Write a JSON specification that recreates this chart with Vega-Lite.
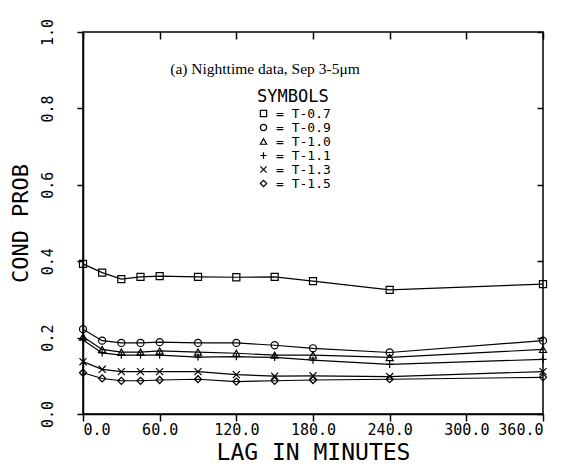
{
  "$schema": "https://vega.github.io/schema/vega-lite/v6.json",
  "width": 460,
  "height": 382,
  "autosize": {"type": "none"},
  "padding": {"left": 83, "top": 32, "right": 34, "bottom": 59},
  "background": "white",
  "config": {
    "view": {"stroke": "black", "strokeWidth": 1.5},
    "font": "DejaVu Sans Mono",
    "axis": {"grid": false, "domainColor": "black", "tickColor": "black", "labelColor": "black", "titleColor": "black", "domainWidth": 1.5, "tickWidth": 1.5, "titleFontWeight": "normal"}
  },
  "title": {
    "text": "(a) Nighttime data, Sep 3-5μm",
    "font": "Liberation Serif",
    "fontSize": 15.5,
    "fontWeight": "normal",
    "color": "black",
    "anchor": "middle",
    "orient": "top",
    "offset": -59,
    "dx": -48
  },
  "data": {
    "values": [
      {"lag": 0, "prob": 0.393, "series": "T-0.7"},
      {"lag": 15, "prob": 0.370, "series": "T-0.7"},
      {"lag": 30, "prob": 0.353, "series": "T-0.7"},
      {"lag": 45, "prob": 0.359, "series": "T-0.7"},
      {"lag": 60, "prob": 0.361, "series": "T-0.7"},
      {"lag": 90, "prob": 0.359, "series": "T-0.7"},
      {"lag": 120, "prob": 0.358, "series": "T-0.7"},
      {"lag": 150, "prob": 0.359, "series": "T-0.7"},
      {"lag": 180, "prob": 0.348, "series": "T-0.7"},
      {"lag": 240, "prob": 0.325, "series": "T-0.7"},
      {"lag": 360, "prob": 0.340, "series": "T-0.7"},
      {"lag": 0, "prob": 0.222, "series": "T-0.9"},
      {"lag": 15, "prob": 0.192, "series": "T-0.9"},
      {"lag": 30, "prob": 0.186, "series": "T-0.9"},
      {"lag": 45, "prob": 0.186, "series": "T-0.9"},
      {"lag": 60, "prob": 0.188, "series": "T-0.9"},
      {"lag": 90, "prob": 0.186, "series": "T-0.9"},
      {"lag": 120, "prob": 0.186, "series": "T-0.9"},
      {"lag": 150, "prob": 0.180, "series": "T-0.9"},
      {"lag": 180, "prob": 0.172, "series": "T-0.9"},
      {"lag": 240, "prob": 0.161, "series": "T-0.9"},
      {"lag": 360, "prob": 0.192, "series": "T-0.9"},
      {"lag": 0, "prob": 0.202, "series": "T-1.0"},
      {"lag": 15, "prob": 0.169, "series": "T-1.0"},
      {"lag": 30, "prob": 0.162, "series": "T-1.0"},
      {"lag": 45, "prob": 0.162, "series": "T-1.0"},
      {"lag": 60, "prob": 0.165, "series": "T-1.0"},
      {"lag": 90, "prob": 0.162, "series": "T-1.0"},
      {"lag": 120, "prob": 0.159, "series": "T-1.0"},
      {"lag": 150, "prob": 0.154, "series": "T-1.0"},
      {"lag": 180, "prob": 0.154, "series": "T-1.0"},
      {"lag": 240, "prob": 0.148, "series": "T-1.0"},
      {"lag": 360, "prob": 0.169, "series": "T-1.0"},
      {"lag": 0, "prob": 0.194, "series": "T-1.1"},
      {"lag": 15, "prob": 0.160, "series": "T-1.1"},
      {"lag": 30, "prob": 0.154, "series": "T-1.1"},
      {"lag": 45, "prob": 0.154, "series": "T-1.1"},
      {"lag": 60, "prob": 0.154, "series": "T-1.1"},
      {"lag": 90, "prob": 0.149, "series": "T-1.1"},
      {"lag": 120, "prob": 0.150, "series": "T-1.1"},
      {"lag": 150, "prob": 0.148, "series": "T-1.1"},
      {"lag": 180, "prob": 0.141, "series": "T-1.1"},
      {"lag": 240, "prob": 0.130, "series": "T-1.1"},
      {"lag": 360, "prob": 0.143, "series": "T-1.1"},
      {"lag": 0, "prob": 0.137, "series": "T-1.3"},
      {"lag": 15, "prob": 0.117, "series": "T-1.3"},
      {"lag": 30, "prob": 0.111, "series": "T-1.3"},
      {"lag": 45, "prob": 0.111, "series": "T-1.3"},
      {"lag": 60, "prob": 0.111, "series": "T-1.3"},
      {"lag": 90, "prob": 0.111, "series": "T-1.3"},
      {"lag": 120, "prob": 0.103, "series": "T-1.3"},
      {"lag": 150, "prob": 0.099, "series": "T-1.3"},
      {"lag": 180, "prob": 0.100, "series": "T-1.3"},
      {"lag": 240, "prob": 0.098, "series": "T-1.3"},
      {"lag": 360, "prob": 0.111, "series": "T-1.3"},
      {"lag": 0, "prob": 0.108, "series": "T-1.5"},
      {"lag": 15, "prob": 0.093, "series": "T-1.5"},
      {"lag": 30, "prob": 0.087, "series": "T-1.5"},
      {"lag": 45, "prob": 0.087, "series": "T-1.5"},
      {"lag": 60, "prob": 0.089, "series": "T-1.5"},
      {"lag": 90, "prob": 0.091, "series": "T-1.5"},
      {"lag": 120, "prob": 0.085, "series": "T-1.5"},
      {"lag": 150, "prob": 0.087, "series": "T-1.5"},
      {"lag": 180, "prob": 0.089, "series": "T-1.5"},
      {"lag": 240, "prob": 0.091, "series": "T-1.5"},
      {"lag": 360, "prob": 0.096, "series": "T-1.5"}
    ]
  },
  "resolve": {"axis": {"x": "independent", "y": "independent"}},
  "layer": [
    {
      "mark": {"type": "line", "color": "black", "strokeWidth": 1.2},
      "encoding": {
        "x": {
          "field": "lag", "type": "quantitative",
          "scale": {"domain": [0, 360], "nice": false, "zero": false},
          "axis": {
            "orient": "bottom",
            "values": [0, 60, 120, 180, 240, 300, 360],
            "labelExpr": "datum.value == 0 ? '\u00a0\u00a00.0' : format(datum.value, '.1f')",
            "tickSize": 7,
            "labelPadding": 1,
            "labelFontSize": 15,
            "labelDx": 5,
            "title": "LAG IN MINUTES",
            "titleFontSize": 23,
            "titlePadding": 4
          }
        },
        "y": {
          "field": "prob", "type": "quantitative",
          "scale": {"domain": [0, 1], "nice": false, "zero": false},
          "axis": {
            "orient": "left",
            "values": [0, 0.2, 0.4, 0.6, 0.8, 1.0],
            "format": ".1f",
            "tickSize": 6,
            "labelAngle": 270,
            "labelAlign": "center",
            "labelBaseline": "bottom",
            "labelPadding": 22,
            "labelFontSize": 15,
            "title": "COND PROB",
            "titleFontSize": 22,
            "titlePadding": 8
          }
        },
        "detail": {"field": "series"}
      }
    },
    {
      "mark": {"type": "point", "filled": false, "color": "black", "strokeWidth": 1.2, "size": 50, "opacity": 1},
      "encoding": {
        "x": {
          "field": "lag", "type": "quantitative",
          "axis": {"orient": "top", "values": [0, 60, 120, 180, 240, 300, 360], "labels": false, "tickSize": -7, "title": null, "domain": false}
        },
        "y": {
          "field": "prob", "type": "quantitative",
          "axis": {"orient": "right", "values": [0, 0.2, 0.4, 0.6, 0.8, 1.0], "labels": false, "tickSize": -6, "title": null, "domain": false}
        },
        "shape": {
          "field": "series", "type": "nominal",
          "scale": {
            "domain": ["T-0.7", "T-0.9", "T-1.0", "T-1.1", "T-1.3", "T-1.5"],
            "range": ["square", "circle", "triangle-up", "M-1,0L1,0M0,-1L0,1", "M-1,-1L1,1M-1,1L1,-1", "diamond"]
          },
          "legend": {
            "orient": "none",
            "legendX": 174,
            "legendY": 57,
            "title": "SYMBOLS",
            "titleFontSize": 17,
            "titleFontWeight": "normal",
            "titleColor": "black",
            "titlePadding": 1,
            "labelFontSize": 13,
            "labelColor": "black",
            "labelExpr": "'= ' + datum.label",
            "symbolSize": 40,
            "symbolStrokeColor": "black",
            "symbolStrokeWidth": 1.2,
            "rowPadding": 0,
            "labelOffset": 6
          }
        }
      }
    }
  ]
}
